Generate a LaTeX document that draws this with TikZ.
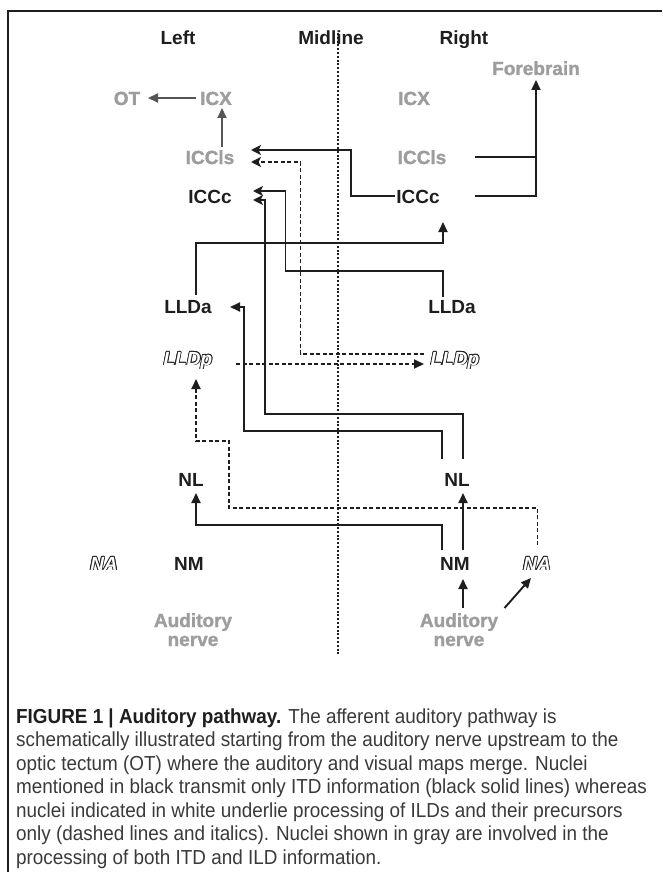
\documentclass[tikz,border=0pt]{standalone}
\usepackage{fontspec}
\setmainfont{Liberation Sans}
\newfontfamily\lblfont{Liberation Sans}
\newfontfamily\grayfont[FakeBold=1.3]{Liberation Sans}
\newfontfamily\capfont[FakeStretch=0.93]{Liberation Sans}
\usetikzlibrary{arrows.meta}
\definecolor{ink}{HTML}{1E1E1E}
\definecolor{gry}{HTML}{9D9D9D}
\definecolor{garrow}{HTML}{555555}
\definecolor{capc}{HTML}{3A3A3A}
\tikzset{
  blab/.style={anchor=base,inner sep=0pt,text=ink,font=\lblfont\bfseries\fontsize{19}{21}\selectfont},
  glab/.style={anchor=base,inner sep=0pt,text=gry,font=\grayfont\bfseries\fontsize{19}{19}\selectfont},
  olab/.style={anchor=base,inner sep=0pt,font=\lblfont\bfseries\itshape\fontsize{19}{21}\selectfont},
  capline/.style={anchor=base west,inner sep=0pt,text=capc,font=\capfont\fontsize{20.3}{23}\selectfont},
  solidarr/.style={draw=ink,line width=1.9pt,-{Triangle[length=10pt,width=9pt]}},
  stealtharr/.style={draw=ink,line width=1.9pt,-{Stealth[length=10pt,width=10pt,inset=2.5pt]}},
  solidln/.style={draw=ink,line width=1.9pt},
  dasharr/.style={draw=ink,line width=1.8pt,dash pattern=on 4pt off 2.5pt,-{Triangle[length=10pt,width=9pt]}},
  dashstealth/.style={draw=ink,line width=1.8pt,dash pattern=on 4pt off 2.5pt,-{Stealth[length=10pt,width=10pt,inset=2.5pt]}},
  grayarr/.style={draw=garrow,line width=1.9pt,-{Triangle[length=10pt,width=9pt]}},
  midln/.style={draw=ink,line width=2pt,dash pattern=on 2pt off 1.8pt},
}
\newcommand\OutlineLabel[4]{%
  \foreach \dx/\dy in {0.85/0,-0.85/0,0/0.85,0/-0.85,0.6/0.6,0.6/-0.6,-0.6/0.6,-0.6/-0.6}
    {\node[olab,text=ink,xshift=\dx pt,yshift=\dy pt] at (#2,#3) {#4};}
  \node[olab,text=white] (#1) at (#2,#3) {#4};}
\begin{document}
\begin{tikzpicture}[x=1pt,y=-1pt]
\useasboundingbox (0,0) rectangle (662,872);
\fill[white] (0,0) rectangle (662,872);
% frame
\draw[ink,line width=2pt] (8,872) -- (8,11) -- (662,11);
% headers
\node[blab] (hleft) at (178,45) {Left};
\node[blab] (hmid) at (331,45) {Midline};
\node[blab] (hright) at (464,45) {Right};
% midline
\coordinate (mtop) at (337.5,33);
\coordinate (mbot) at (337.5,655);
\draw[midln] (mtop) -- (mbot);
% gray nuclei
\node[glab] (fore) at (536,75) {Forebrain};
\node[glab] (ot) at (127,105) {OT};
\node[glab] (icxL) at (216,105) {ICX};
\node[glab] (icxR) at (414,105) {ICX};
\node[glab] (icclsL) at (210,164) {ICCls};
\node[glab] (icclsR) at (422,164) {ICCls};
\node[glab,align=center] (anL) at (193,646) {Auditory\\nerve};
\node[glab,align=center] (anR) at (459,646) {Auditory\\nerve};
% black nuclei
\node[blab] (icccL) at (210,203) {ICCc};
\node[blab] (icccR) at (418,203) {ICCc};
\node[blab] (lldaL) at (188,313) {LLDa};
\node[blab] (lldaR) at (452,313) {LLDa};
\node[blab] (nlL) at (191,486) {NL};
\node[blab] (nlR) at (457,486) {NL};
\node[blab] (nmL) at (189,570) {NM};
\node[blab] (nmR) at (455,570) {NM};
% outlined (ILD) nuclei
\OutlineLabel{lldpL}{188}{365}{LLDp}
\OutlineLabel{lldpR}{455}{365}{LLDp}
\OutlineLabel{naL}{104}{570}{NA}
\OutlineLabel{naR}{537}{570}{NA}
% gray connectors
\coordinate (c1a) at (196,98);  \coordinate (c1b) at (148,98);
\draw[grayarr] (c1a) -- (c1b);
\coordinate (c2a) at (222,147); \coordinate (c2b) at (222,108);
\draw[grayarr] (c2a) -- (c2b);
% ICCc R -> ICCls L
\coordinate (c3a) at (395,196); \coordinate (c3b) at (251,150);
\draw[stealtharr] (c3a) -- (351,196) -- (351,150) -- (c3b);
% LLDp R -> ICCls L (dashed)
\coordinate (c4a) at (424,354); \coordinate (c4b) at (251,162);
\draw[dashstealth] (c4a) -- (300.5,354) -- (300.5,162) -- (c4b);
% ICCls R, ICCc R -> Forebrain
\coordinate (c5a) at (475,157); \coordinate (c5j) at (536,157);
\draw[solidln] (c5a) -- (c5j);
\coordinate (c5b) at (475,196); \coordinate (c5t) at (536,80);
\draw[solidarr] (c5b) -- (536,196) -- (c5t);
% LLDa R -> ICCc L (upper)
\coordinate (c6a) at (443,297); \coordinate (c6b) at (253,191);
\draw[stealtharr] (c6a) -- (443,271) -- (285.5,271) -- (285.5,191) -- (c6b);
% NL R -> ICCc L (lower)
\coordinate (c7a) at (463,459); \coordinate (c7b) at (253,200);
\draw[stealtharr] (c7a) -- (463,414) -- (265,414) -- (265,200) -- (c7b);
% LLDa L -> ICCc R
\coordinate (c8a) at (196,295); \coordinate (c8b) at (443,222);
\draw[solidarr] (c8a) -- (196,243) -- (443,243) -- (c8b);
% NL R -> LLDa L
\coordinate (c9a) at (442,459); \coordinate (c9b) at (230,307);
\draw[solidarr] (c9a) -- (442,431) -- (244,431) -- (244,307) -- (c9b);
% LLDp L -> LLDp R (dashed)
\coordinate (c10a) at (236,364); \coordinate (c10b) at (424,364);
\draw[dasharr] (c10a) -- (c10b);
% NA R -> LLDp L (dashed)
\coordinate (c11a) at (537.5,545); \coordinate (c11b) at (196,379);
\draw[dasharr] (c11a) -- (537.5,508) -- (229,508) -- (229,441) -- (196,441) -- (c11b);
% NM R -> NL L
\coordinate (c12a) at (442,550); \coordinate (c12b) at (196,493);
\draw[solidarr] (c12a) -- (442,525) -- (196,525) -- (c12b);
% NM R -> NL R
\coordinate (c13a) at (463,550); \coordinate (c13b) at (463,493);
\draw[solidarr] (c13a) -- (c13b);
% Auditory nerve R -> NM R
\coordinate (c14a) at (463,608); \coordinate (c14b) at (463,579);
\draw[solidarr] (c14a) -- (c14b);
% Auditory nerve R -> NA R
\coordinate (c15a) at (504.5,608); \coordinate (c15b) at (531,578);
\draw[solidarr] (c15a) -- (c15b);
% caption
\node[capline] (cap1) at (16,723) {{\color{ink}\bfseries FIGURE 1 | Auditory pathway.} The afferent auditory pathway is};
\node[capline] (cap2) at (16,746.5) {schematically illustrated starting from the auditory nerve upstream to the};
\node[capline] (cap3) at (16,770) {optic tectum (OT) where the auditory and visual maps merge. Nuclei};
\node[capline] (cap4) at (16,793.5) {mentioned in black transmit only ITD information (black solid lines) whereas};
\node[capline] (cap5) at (16,817) {nuclei indicated in white underlie processing of ILDs and their precursors};
\node[capline] (cap6) at (16,840.5) {only (dashed lines and italics). Nuclei shown in gray are involved in the};
\node[capline] (cap7) at (16,864) {processing of both ITD and ILD information.};
\end{tikzpicture}
\end{document}
